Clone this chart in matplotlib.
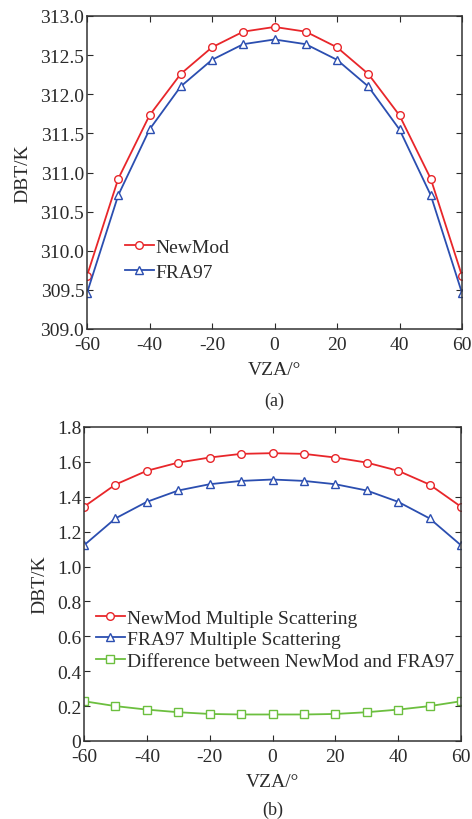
import matplotlib
matplotlib.use("Agg")
import matplotlib.pyplot as plt
from matplotlib.ticker import FuncFormatter

plt.rcParams['font.family'] = ['Liberation Serif', 'DejaVu Serif']
plt.rcParams['font.size'] = 14
plt.rcParams['axes.unicode_minus'] = False

# viewing zenith angles
vza = [-60, -50, -40, -30, -20, -10, 0, 10, 20, 30, 40, 50, 60]

# (a) brightness temperature
newmod_bt = [309.68, 310.92, 311.73, 312.26, 312.60, 312.80, 312.86,
             312.80, 312.60, 312.26, 311.73, 310.92, 309.68]
fra97_bt = [309.46, 310.71, 311.55, 312.10, 312.44, 312.64, 312.70,
            312.64, 312.44, 312.10, 311.55, 310.71, 309.46]

# (b) multiple scattering contribution
newmod_ms = [1.343, 1.470, 1.549, 1.596, 1.625, 1.646, 1.650,
             1.646, 1.625, 1.596, 1.549, 1.470, 1.343]
fra97_ms = [1.122, 1.276, 1.371, 1.436, 1.472, 1.491, 1.499,
            1.491, 1.472, 1.436, 1.371, 1.276, 1.122]
diff_ms = [0.228, 0.200, 0.180, 0.165, 0.155, 0.152, 0.152,
           0.152, 0.155, 0.165, 0.180, 0.200, 0.228]

RED = '#e8262a'
BLUE = '#2b4eb0'
GREEN = '#6cbf3f'
TXT = '#2a2a2a'

fig = plt.figure(figsize=(4.72, 8.2), dpi=100)
W, H = 472, 820

def make_axes(left, top, right, bottom):
    return fig.add_axes([left / W, 1 - bottom / H, (right - left) / W, (bottom - top) / H])

def style(ax):
    ax.tick_params(direction='in', top=True, right=True, length=4, width=0.8,
                   labelsize=14, colors=TXT)
    ax.tick_params(axis='x', pad=5)
    ax.tick_params(axis='y', pad=2)
    for s in ax.spines.values():
        s.set_linewidth(1.1)
        s.set_color('#333333')

mk = dict(markersize=5.5, markerfacecolor='white', markeredgewidth=1.0, linewidth=1.3)

# ---- (a)
ax1 = make_axes(87, 17, 462, 330)
ax1.plot(vza, newmod_bt, color=RED, marker='o', label='NewMod', **mk)
ax1.plot(vza, fra97_bt, color=BLUE, marker='^', label='FRA97', **mk)
ax1.set_xlim(-60, 60)
ax1.set_ylim(309.0, 313.0)
ax1.set_xticks(range(-60, 61, 20))
ax1.set_yticks([309.0, 309.5, 310.0, 310.5, 311.0, 311.5, 312.0, 312.5, 313.0])
ax1.yaxis.set_major_formatter(FuncFormatter(lambda v, p: f"{v:.1f}"))
style(ax1)
ax1.set_xlabel('VZA/°', fontsize=14, labelpad=6, color=TXT)
ax1.set_ylabel('DBT/K', fontsize=14, labelpad=6, color=TXT)
ax1.legend(loc='upper left', bbox_to_anchor=(0.08, 0.315), frameon=False,
           handlelength=1.5, handletextpad=0.1, borderaxespad=0, labelspacing=0.4,
           fontsize=14, labelcolor=TXT)
fig.text(ax1.get_position().x0 + ax1.get_position().width / 2, 1 - 401 / H, '(a)',
         ha='center', va='center', fontsize=13, color=TXT)

# ---- (b)
ax2 = make_axes(84, 428, 461, 742)
ax2.plot(vza, newmod_ms, color=RED, marker='o', label='NewMod Multiple Scattering', **mk)
ax2.plot(vza, fra97_ms, color=BLUE, marker='^', label='FRA97 Multiple Scattering', **mk)
ax2.plot(vza, diff_ms, color=GREEN, marker='s', label='Difference between NewMod and FRA97', **mk)
ax2.set_xlim(-60, 60)
ax2.set_ylim(0, 1.8)
ax2.set_xticks(range(-60, 61, 20))
ax2.set_yticks([0, 0.2, 0.4, 0.6, 0.8, 1.0, 1.2, 1.4, 1.6, 1.8])
ax2.yaxis.set_major_formatter(FuncFormatter(lambda v, p: "0" if abs(v) < 1e-9 else f"{v:.1f}"))
style(ax2)
ax2.set_xlabel('VZA/°', fontsize=14, labelpad=6, color=TXT)
ax2.set_ylabel('DBT/K', fontsize=14, labelpad=6, color=TXT)
ax2.legend(loc='upper left', bbox_to_anchor=(0.01, 0.445), frameon=False,
           handlelength=1.5, handletextpad=0.1, borderaxespad=0, labelspacing=0.2,
           fontsize=14, labelcolor=TXT)
fig.text(ax2.get_position().x0 + ax2.get_position().width / 2, 1 - 810 / H, '(b)',
         ha='center', va='center', fontsize=13, color=TXT)

fig.savefig('out.png', dpi=100)
